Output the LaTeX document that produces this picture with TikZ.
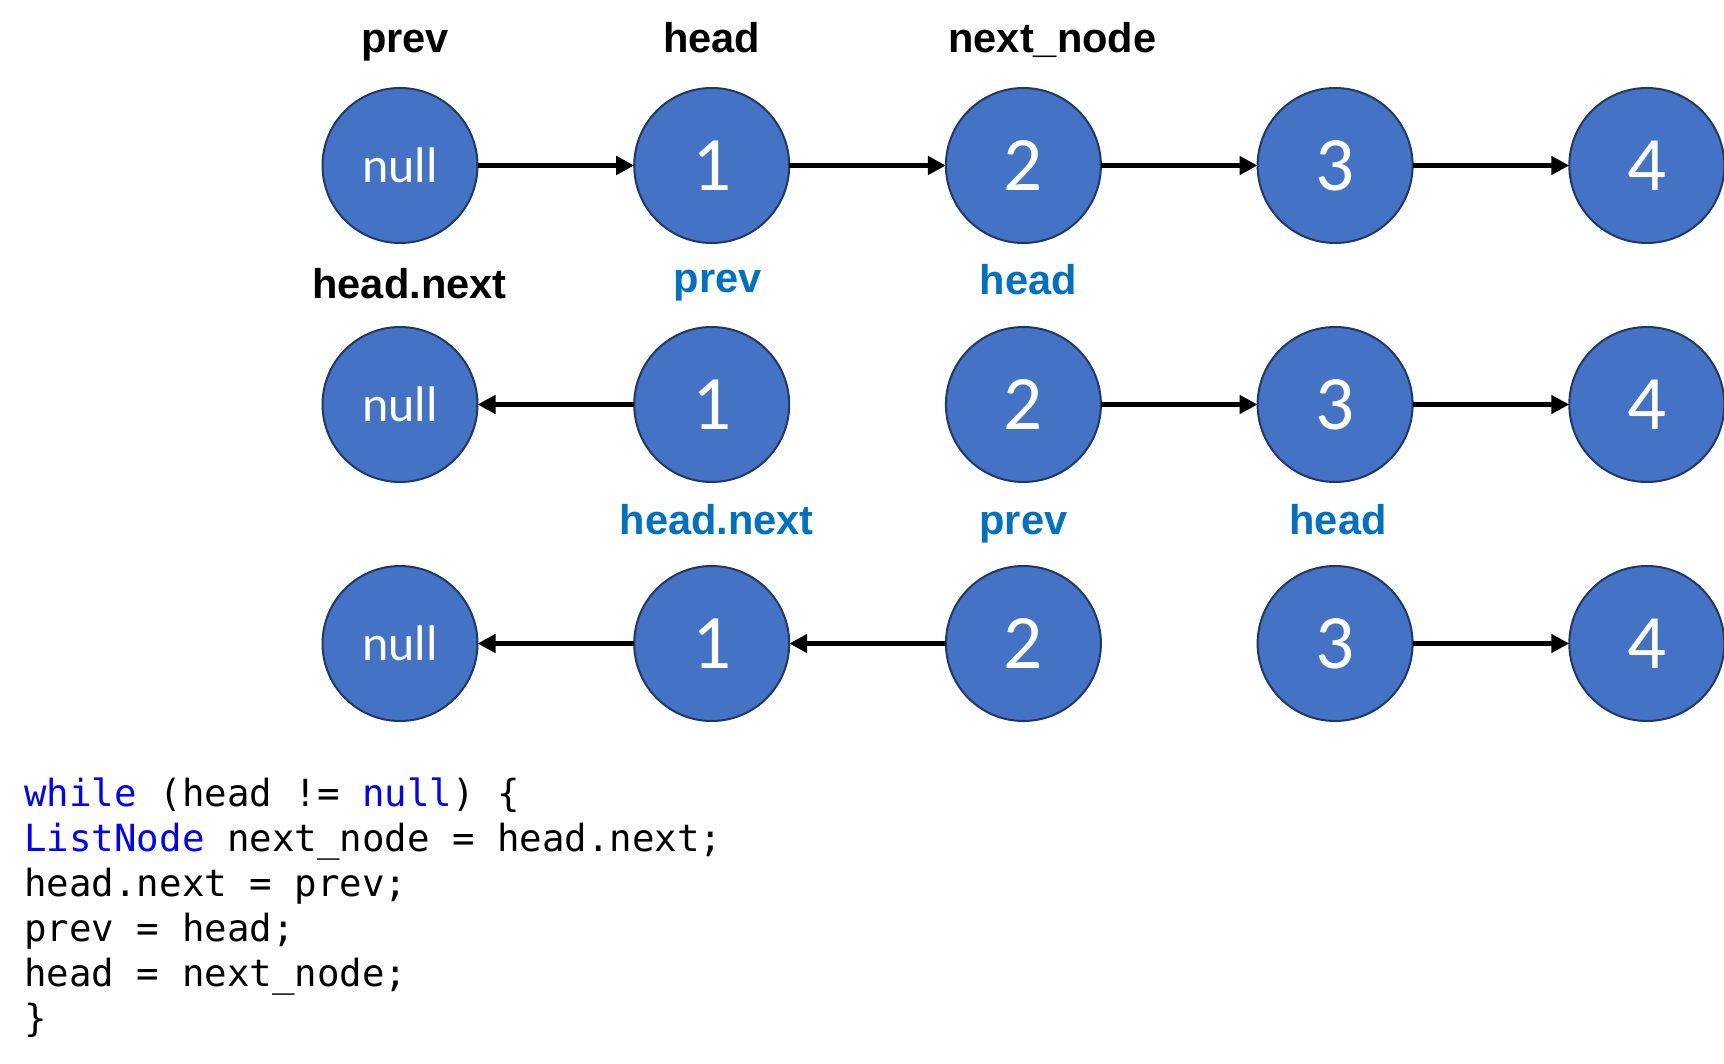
\documentclass[tikz,border=0pt]{standalone}
\usepackage{fontspec}
\newfontfamily\labelfont{Liberation Sans}
\newfontfamily\circlefont{Carlito}
\newfontfamily\codefont{DejaVu Sans Mono}
\usetikzlibrary{positioning}
\usetikzlibrary{arrows.meta}
\definecolor{nodeFill}{HTML}{4472C4}
\definecolor{nodeBorder}{HTML}{203864}
\definecolor{newPointer}{HTML}{0070C0}
\definecolor{keyword}{HTML}{0000FF}
\newcommand{\kw}[1]{\textcolor{keyword}{#1}}

\begin{document}
\begin{tikzpicture}[node distance=42pt and 78.35pt,
    listNode/.style={draw=nodeBorder, line width=1pt, fill=nodeFill, shape=circle, inner sep=0mm, outer sep=0mm, minimum size=77.5pt, text=white, font=\circlefont\fontsize{38.5}{40}\selectfont},
    nullNode/.style={listNode, font=\circlefont\fontsize{25}{28}\selectfont},
    pointerName/.style={inner sep=0mm, text depth=0pt, font=\labelfont\bfseries\fontsize{20.8}{24}\selectfont},
    newPointerName/.style={pointerName, text=newPointer},
    codeLine/.style={anchor=base west, inner sep=0mm, font=\codefont\fontsize{18.7}{22.5}\selectfont},
    link/.style={line width=2.5pt, -{Triangle[length=9pt, width=9pt]}},
  ]
    \useasboundingbox (0,0) rectangle (862pt,-532pt);

    \node[nullNode] (0_0) at (200pt,-82.75pt) {null};
    \node[listNode, right=of 0_0] (1_0) {1};
    \node[listNode, right=of 1_0] (2_0) {2};
    \node[listNode, right=of 2_0] (3_0) {3};
    \node[listNode, right=of 3_0] (4_0) {4};

    \node[nullNode, below=of 0_0] (0_1) {null};
    \node[listNode, right=of 0_1] (1_1) {1};
    \node[listNode, right=of 1_1] (2_1) {2};
    \node[listNode, right=of 2_1] (3_1) {3};
    \node[listNode, right=of 3_1] (4_1) {4};

    \node[nullNode, below=of 0_1] (0_2) {null};
    \node[listNode, right=of 0_2] (1_2) {1};
    \node[listNode, right=of 1_2] (2_2) {2};
    \node[listNode, right=of 2_2] (3_2) {3};
    \node[listNode, right=of 3_2] (4_2) {4};

    \node[pointerName, above=17.5pt of 0_0, xshift=2.5pt] (prev_0) {prev};
    \node[pointerName, above=17.5pt of 1_0] (head_0) {head};
    \node[pointerName, above=17.5pt of 2_0, xshift=14.5pt] (next_0) {next\_node};

    \node[pointerName, above=14pt of 0_1, xshift=4.75pt] (next_1) {head.next};
    \node[newPointerName, above=17pt of 1_1, xshift=3pt] (prev_1) {prev};
    \node[newPointerName, above=16pt of 2_1, xshift=2.5pt] (head_1) {head};

    \node[newPointerName, above=15.5pt of 1_2, xshift=2.5pt] (next_2) {head.next};
    \node[newPointerName, above=15.5pt of 2_2] (prev_2) {prev};
    \node[newPointerName, above=15.5pt of 3_2, xshift=1.5pt] (head_2) {head};

    \path[link] (0_0) edge (1_0);
    \path[link] (1_0) edge (2_0);
    \path[link] (2_0) edge (3_0);
    \path[link] (3_0) edge (4_0);

    \path[link] (1_1) edge (0_1);
    \path[link] (2_1) edge (3_1);
    \path[link] (3_1) edge (4_1);

    \path[link] (1_2) edge (0_2);
    \path[link] (2_2) edge (1_2);
    \path[link] (3_2) edge (4_2);

    \node[codeLine] (code_0) at (12pt,-403pt) {\kw{while} (head != \kw{null}) \{};
    \node[codeLine] (code_1) at ([yshift=-22.5pt]code_0.base west) {\kw{ListNode} next\_node = head.next;};
    \node[codeLine] (code_2) at ([yshift=-22.5pt]code_1.base west) {head.next = prev;};
    \node[codeLine] (code_3) at ([yshift=-22.5pt]code_2.base west) {prev = head;};
    \node[codeLine] (code_4) at ([yshift=-22.5pt]code_3.base west) {head = next\_node;};
    \node[codeLine] (code_5) at ([yshift=-22.5pt]code_4.base west) {\}};
  \end{tikzpicture}
\end{document}
